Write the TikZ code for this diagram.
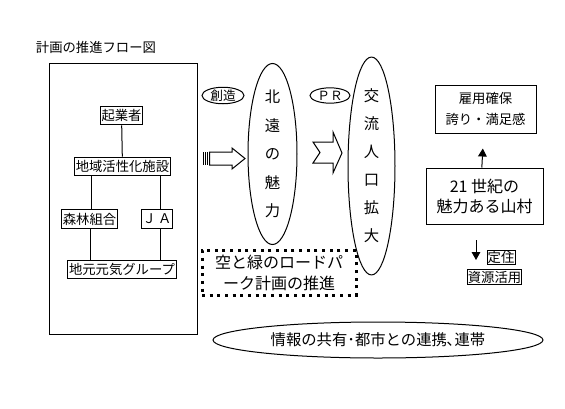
\documentclass[tikz,border=0pt]{standalone}
\usepackage{fontspec}
\setmainfont{Noto Sans CJK JP}
\usetikzlibrary{shapes.geometric,arrows.meta}
\tikzset{
  box/.style={draw, inner sep=1pt, minimum height=14pt, font=\fontsize{10}{12}\selectfont},
  oval/.style={draw, ellipse, inner sep=0pt},
  tip/.style={-{Triangle[width=6.5pt,length=6pt]}},
}

\begin{document}
\begin{tikzpicture}[x=0.75pt,y=-0.75pt,line width=0.75pt]
\useasboundingbox (0,0) rectangle (565,408);
% Title and outer frame
\node[anchor=west, font=\fontsize{10}{12}\selectfont] (title) at (31,47) {計画の推進フロー図};
\draw (49,63) rectangle (197,334);
% Bodies inside the frame
\node[box] (kigyo) at (121.5,115.5) {起業者};
\node[box] (shisetsu) at (122.5,166.5) {地域活性化施設};
\node[box] (shinrin) at (89.5,219) {森林組合};
\node[box, minimum width=21pt] (ja) at (157,219) {Ｊ\,Ａ};
\node[box] (genki) at (122,269.5) {地元元気グループ};
% Links
\draw (kigyo) -- (shisetsu);
\draw ([xshift=1.2pt]shinrin.north) -- ([xshift=1.2pt]shinrin.north |- shisetsu.south);
\draw ([xshift=2.7pt]ja.north) -- ([xshift=2.7pt]ja.north |- shisetsu.south);
\draw ([xshift=1pt]shinrin.south) -- ([xshift=1pt]shinrin.south |- genki.north);
\draw ([xshift=2.7pt]ja.south) -- ([xshift=2.7pt]ja.south |- genki.north);
% Striped arrow
\foreach \x in {203,205,207} \draw (\x,152) -- (\x,165);
\draw (209.5,152) -- (232,152) -- (232,148) -- (245,158.5) -- (232,169) -- (232,165) -- (209.5,165) -- cycle;
% Notched arrow
\draw (313,142) -- (333,142) -- (333,132) -- (342,153) -- (333,173) -- (333,163) -- (313,163) -- (320,152.5) -- cycle;
% Ovals
\node[oval, minimum width=31.5pt, minimum height=11.5pt, font=\fontsize{9.5}{11}\selectfont] (sozo) at (223,95.5) {創造};
\node[oval, minimum width=30pt, minimum height=11.5pt, font=\fontsize{9.5}{11}\selectfont] (pr) at (330,95.5) {ＰＲ};
\node[oval, minimum width=36.75pt, minimum height=126pt, align=center, font=\fontsize{11.5}{21.4}\selectfont] (miryoku) at (272.5,154) {北\\遠\\の\\魅\\力};
\node[oval, minimum width=35.25pt, minimum height=153pt, align=center, font=\fontsize{11.5}{21}\selectfont] (koryu) at (371.5,166) {交\\流\\人\\口\\拡\\大};
% Dotted box
\node[draw, line width=2.25pt, dash pattern=on 2.25pt off 3.5pt, minimum width=115.5pt, minimum height=30pt, align=center, font=\fontsize{12}{16}\selectfont] (road) at (279,273) {空と緑のロードパ\\ーク計画の推進};
% Right side
\node[draw, minimum width=75.75pt, minimum height=36pt, align=center, font=\fontsize{10}{16}\selectfont] (koyo) at (485.5,109) {雇用確保\\誇り・満足感};
\node[draw, minimum width=87.75pt, minimum height=42pt, align=center, font=\fontsize{12}{15}\selectfont] (sanson) at (484.5,196) {21 世紀の\\魅力ある山村};
\draw[tip] ([xshift=-2pt]sanson.north) -- ([xshift=-2pt,yshift=-11.25pt]koyo.south);
\coordinate (dtop) at (476,240);
\coordinate (dbot) at (476,260);
\draw[tip] (dtop) -- (dbot);
\node[box, inner sep=0.5pt, minimum height=11pt] (teiju) at (501,257.5) {定住};
\node[box, inner sep=0.5pt, minimum height=11pt] (shigen) at (494.5,277) {資源活用};
% Bottom oval
\node[oval, minimum width=247.5pt, minimum height=27pt, font=\fontsize{11.5}{14}\selectfont] (joho) at (378,340) {情報の共有･都市との連携､連帯};
\end{tikzpicture}
\end{document}
